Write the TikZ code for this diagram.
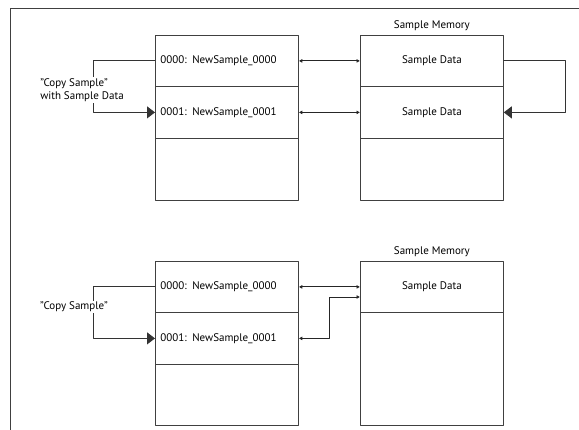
\documentclass[tikz,border=0pt]{standalone}
\usepackage{fontspec}
\setmainfont{PT Sans}
\usetikzlibrary{arrows.meta}
\begin{document}
\begin{tikzpicture}[x=1pt,y=-1pt,line cap=round,line join=round,
  font=\fontsize{11}{13}\selectfont,
  cell/.style={draw=black!75,line width=0.8pt,minimum width=143pt,anchor=north west,inner sep=0pt},
  slot/.style={cell,text width=133pt,align=left},
  dbl/.style={draw=black!85,line width=0.8pt,{Latex[length=3.5pt,width=4pt]}-{Latex[length=3.5pt,width=4pt]}},
  copy/.style={draw=black!80,line width=0.9pt,-{Triangle[length=8pt,width=12pt]}},
  note/.style={fill=white,inner sep=1pt,align=left}]
  \useasboundingbox (0,0) rectangle (579,430);
  \draw[black!75,line width=0.8pt] (579,8) -- (10,8) -- (10,430);
  % upper case: copy with data
  \node[slot,minimum height=51pt] (tl0) at (155,35) {0000: NewSample\_0000};
  \node[slot,minimum height=52pt] (tl1) at (155,86) {0001: NewSample\_0001};
  \node[slot,minimum height=62pt] (tl2) at (155,138) {};
  \node[cell,minimum height=51pt] (tr0) at (360,35) {Sample Data};
  \node[cell,minimum height=52pt] (tr1) at (360,86) {Sample Data};
  \node[cell,minimum height=62pt] (tr2) at (360,138) {};
  \node[above=1pt] (mem1) at (tr0.north) {Sample Memory};
  \draw[dbl] (tl0.east) -- (tr0.west);
  \draw[dbl] (tl1.east) -- (tr1.west);
  \draw[copy] (tr0.east) -- ++(62,0) |- (tr1.east);
  \draw[copy] (tl0.west) -- ++(-62,0) |- (tl1.west);
  \node[note] (cpy1) at (82,90) {"Copy Sample"\\with Sample Data};
  % lower case: copy only
  \node[slot,minimum height=51pt] (bl0) at (155,261) {0000: NewSample\_0000};
  \node[slot,minimum height=52pt] (bl1) at (155,312) {0001: NewSample\_0001};
  \node[slot,minimum height=61pt] (bl2) at (155,364) {};
  \node[cell,minimum height=51pt] (br0) at (360,261) {Sample Data};
  \node[cell,minimum height=113pt] (br1) at (360,312) {};
  \node[above=1pt] (mem2) at (br0.north) {Sample Memory};
  \coordinate (brin) at (360,297);
  \draw[dbl] (bl0.east) -- (br0.west);
  \draw[dbl] (bl1.east) -- ++(31,0) |- (brin);
  \draw[copy] (bl0.west) -- ++(-62,0) |- (bl1.west);
  \node[note] (cpy2) at (74,307) {"Copy Sample"};
\end{tikzpicture}
\end{document}
